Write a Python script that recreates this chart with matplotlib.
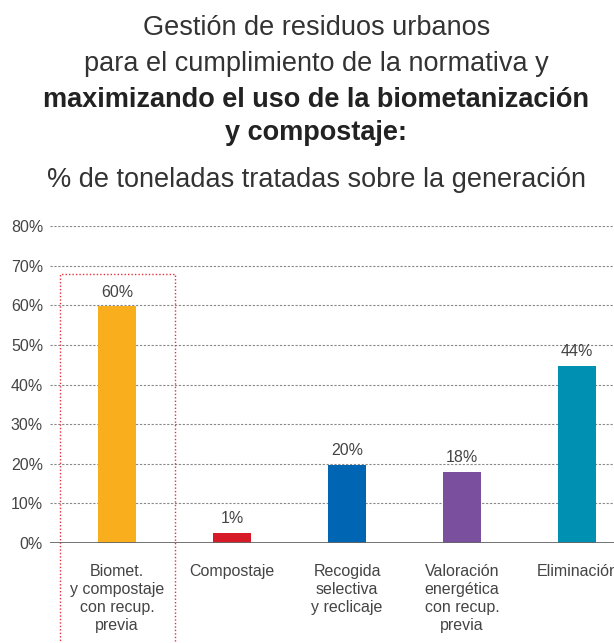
import matplotlib.pyplot as plt

plt.rcParams['font.family'] = ['Liberation Sans', 'DejaVu Sans']

categories = ['Biomet.\ny compostaje\ncon recup.\nprevia', 'Compostaje',
              'Recogida\nselectiva\ny reclicaje', 'Valoración\nenergética\ncon recup.\nprevia',
              'Eliminación']
values = [59.7, 2.6, 19.6, 18.0, 44.6]
value_labels = ['60%', '1%', '20%', '18%', '44%']
colors = ['#F8AE1D', '#D71A28', '#0065B2', '#7A4F9E', '#0090B2']
yticks = [0, 10, 20, 30, 40, 50, 60, 70, 80]

fig = plt.figure(figsize=(6.14, 6.43), dpi=100)
ax = fig.add_axes([50 / 614, 0.1555, 1 - 50 / 614, 0.493])

x = list(range(len(categories)))
ax.bar(x, values, width=0.33, color=colors, zorder=3)

for xi, v, lab in zip(x, values, value_labels):
    ax.annotate(lab, (xi, v), xytext=(0, 5), textcoords='offset points',
                ha='center', va='bottom', fontsize=11.5, color='#444444')

ax.set_xlim(-0.583, 4.32)
ax.set_ylim(0, 80)
ax.set_yticks(yticks)
ax.set_yticklabels([f'{t}%' for t in yticks], fontsize=11.5, color='#444444')
ax.tick_params(axis='y', length=0, pad=5)
ax.set_xticks(x)
ax.set_xticklabels(categories, fontsize=11.5, color='#444444', linespacing=1.25, va='top')
ax.tick_params(axis='x', length=0, pad=15)

for t in yticks[1:]:
    ax.axhline(t, color='#888888', lw=0.8, ls=(0, (2, 1.5)), zorder=1)
ax.axhline(0, color='#666666', lw=2, zorder=4)

for s in ax.spines.values():
    s.set_visible(False)

# red dotted highlight box
box_x = [-0.5, -0.5, 0.5, 0.5]
box_y = [-30, 68, 68, -30]
ax.plot(box_x, box_y, color='#E8303A', lw=1, ls=(0, (1, 1.5)), clip_on=False, zorder=2)

fig.text(0.515, 1 - 28 / 643, 'Gestión de residuos urbanos', ha='center', va='center',
         fontsize=19.5, color='#333333')
fig.text(0.515, 1 - 64 / 643, 'para el cumplimiento de la normativa y', ha='center', va='center',
         fontsize=19.5, color='#333333')
fig.text(0.515, 1 - 100 / 643, 'maximizando el uso de la biometanización', ha='center', va='center',
         fontsize=19.5, color='#222222', fontweight='bold')
fig.text(0.515, 1 - 133 / 643, 'y compostaje:', ha='center', va='center',
         fontsize=19.5, color='#222222', fontweight='bold')
fig.text(0.515, 1 - 180 / 643, '% de toneladas tratadas sobre la generación', ha='center', va='center',
         fontsize=19.5, color='#333333')

fig.savefig('out.png', dpi=100)
